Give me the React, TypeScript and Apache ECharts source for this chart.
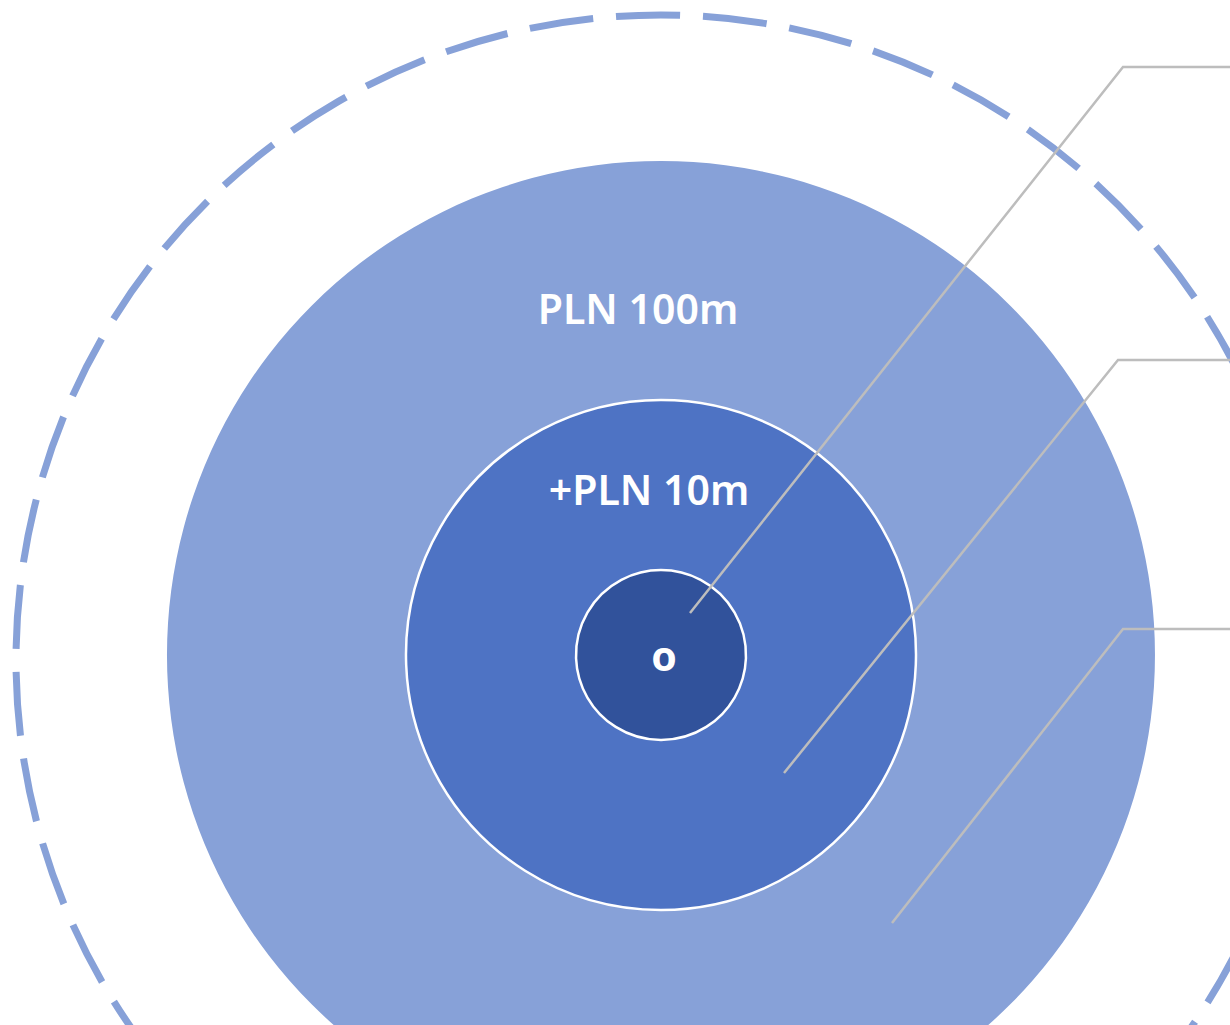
import React, { useEffect, useRef } from "react";
import * as echarts from "echarts";

// Market-sizing rings (outer to inner)
const ringLabels = ["PLN 100m", "+PLN 10m", "o"];
const ringValues = [100, 10, 1];

export default function App() {
  const ref = useRef<HTMLDivElement>(null);

  useEffect(() => {
    document.body.style.margin = "0";
    if (!ref.current) return;
    const chart = echarts.init(ref.current, undefined, { renderer: "svg" });

    const cx = 661;
    const cy = 655;
    const radii = [494, 255, 85];
    const colors = ["#87A1D8", "#4E73C4", "#31529B"];
    const borders = [0, 2.5, 2.5];
    const labelPos = [
      [638, 308],
      [649, 489],
      [664, 655],
    ];
    const labelWeights = [600, 600, 700];

    const leaders = [
      [[690, 613], [1123, 67], [1230, 67]],
      [[784, 773], [1118, 360], [1230, 360]],
      [[892, 923], [1123, 629], [1230, 629]],
    ];

    const series: any[] = ringLabels.map((name, i) => ({
      type: "pie",
      center: [cx, cy],
      radius: [0, radii[i]],
      silent: true,
      z: 2 + i,
      label: { show: false },
      labelLine: { show: false },
      emphasis: { disabled: true },
      itemStyle: {
        color: colors[i],
        borderColor: "#ffffff",
        borderWidth: borders[i],
      },
      data: [{ name, value: ringValues[i] }],
    }));

    const graphics: any[] = [
      {
        type: "circle",
        z: 1,
        silent: true,
        shape: { cx, cy: 660, r: 645 },
        style: {
          fill: "none",
          stroke: "#87A1D8",
          lineWidth: 7,
          lineDash: [64, 23],
          lineDashOffset: 51,
        },
      },
      ...leaders.map((pts) => ({
        type: "polyline",
        z: 100,
        silent: true,
        shape: { points: pts },
        style: { fill: "none", stroke: "#BDBDBD", lineWidth: 2.5 },
      })),
      ...ringLabels.map((t, i) => ({
        type: "text",
        z: 101,
        silent: true,
        x: labelPos[i][0],
        y: labelPos[i][1],
        style: {
          text: t,
          fill: "#ffffff",
          font: `${labelWeights[i]} 41px "Noto Sans"`,
          textAlign: "center",
          textVerticalAlign: "middle",
        },
      })),
    ];

    chart.setOption({
      animation: false,
      backgroundColor: "#ffffff",
      series,
      graphic: { elements: graphics },
    });

    return () => chart.dispose();
  }, []);

  return <div ref={ref} style={{ width: 1230, height: 1025 }} />;
}
